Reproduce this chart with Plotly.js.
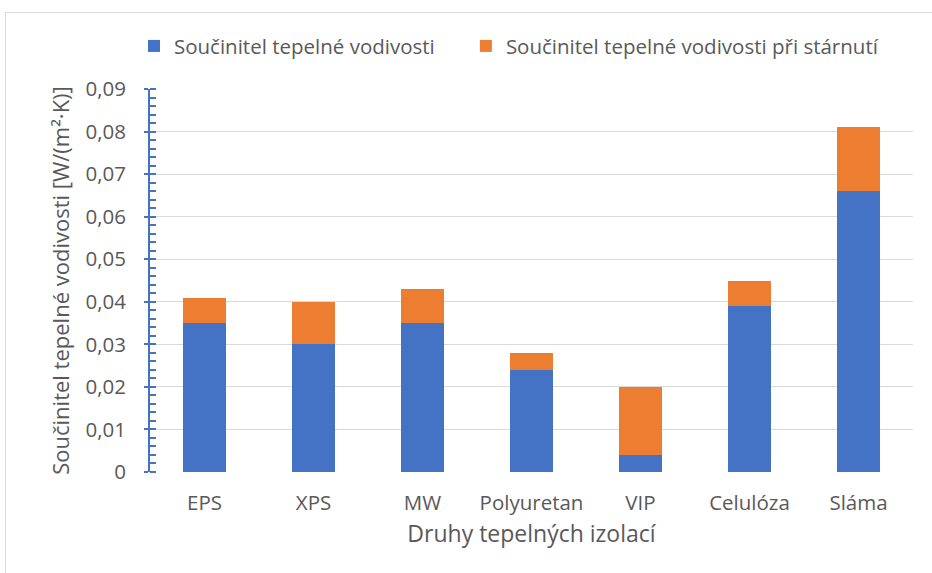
<!DOCTYPE html>
<html>
<head>
<meta charset="utf-8">
<script src="https://cdn.plot.ly/plotly-3.0.1.min.js"></script>
<style>
html,body{margin:0;padding:0;background:#fff;}
#wrap{position:relative;width:932px;height:573px;overflow:hidden;}
#frame{position:absolute;left:5px;top:12px;width:1000px;height:700px;border-left:1px solid #d9d9d9;border-top:1px solid #d9d9d9;pointer-events:none;}
#chart{position:absolute;left:0;top:0;width:932px;height:573px;}
</style>
</head>
<body>
<div id="wrap"><div id="chart"></div><div id="frame"></div></div>
<script>
const categories = ["EPS", "XPS", "MW", "Polyuretan", "VIP", "Celulóza", "Sláma"];
const conductivity = [0.035, 0.030, 0.035, 0.024, 0.004, 0.039, 0.066];
const agingIncrease = [0.006, 0.010, 0.008, 0.004, 0.016, 0.006, 0.015];
const seriesNames = ["Součinitel tepelné vodivosti", "Součinitel tepelné vodivosti při stárnutí"];
const yTitle = "Součinitel tepelné vodivosti [W/(m²·K)]";
const xTitle = "Druhy tepelných izolací";

const FONT = "Open Sans, sans-serif";
const TXT = "#595959";
const BLUE = "#4472C4";
const ORANGE = "#ED7D31";

const traces = [
  {type: "bar", x: categories, y: conductivity, name: seriesNames[0],
   marker: {color: BLUE}, hoverinfo: "x+y", legend: "legend"},
  {type: "bar", x: categories, y: agingIncrease, name: seriesNames[1],
   marker: {color: ORANGE}, hoverinfo: "x+y", legend: "legend2"}
];

const legendFont = {family: FONT, size: 20.5, color: TXT};

const layout = {
  width: 932, height: 573,
  margin: {l: 150, r: 19, t: 89, b: 101},
  paper_bgcolor: "rgba(0,0,0,0)",
  plot_bgcolor: "rgba(0,0,0,0)",
  barmode: "stack",
  bargap: 0.6,
  separators: ", ",
  font: {family: FONT, color: TXT, size: 20},
  showlegend: true,
  legend: {orientation: "h", x: -0.021, xanchor: "left", y: 1.112, yanchor: "middle",
           font: legendFont, itemclick: false, bgcolor: "rgba(0,0,0,0)"},
  legend2: {orientation: "h", x: 0.414, xanchor: "left", y: 1.112, yanchor: "middle",
           font: legendFont, itemclick: false, bgcolor: "rgba(0,0,0,0)"},
  xaxis: {
    type: "category",
    showline: false, showgrid: false, zeroline: false,
    ticks: "",
    ticklabelstandoff: 16,
    tickfont: {family: FONT, size: 20.5, color: TXT},
    title: {text: xTitle, font: {family: FONT, size: 23, color: TXT}, standoff: 11},
    automargin: false
  },
  yaxis: {
    range: [0, 0.09],
    dtick: 0.01,
    tickformat: ".2~f",
    showgrid: true, gridcolor: "#D9D9D9", gridwidth: 1,
    zeroline: false,
    showline: true, linecolor: BLUE, linewidth: 2,
    ticks: "outside", ticklen: 4, tickwidth: 2, tickcolor: BLUE,
    ticklabelstandoff: 14,
    minor: {dtick: 0.002, ticks: "inside", ticklen: 6, tickwidth: 2, tickcolor: BLUE, showgrid: false},
    tickfont: {family: FONT, size: 20.5, color: TXT},
    title: {text: yTitle, font: {family: FONT, size: 22, color: TXT}, standoff: 10},
    automargin: false
  },
  yaxis2: {
    overlaying: "y", side: "left", range: [0, 0.09], dtick: 0.01,
    showgrid: false, zeroline: false, showline: false, showticklabels: false,
    ticks: "inside", ticklen: 6, tickwidth: 2, tickcolor: BLUE
  }
};

Plotly.newPlot("chart", traces, layout, {displayModeBar: false, staticPlot: true});
</script>
</body>
</html>
